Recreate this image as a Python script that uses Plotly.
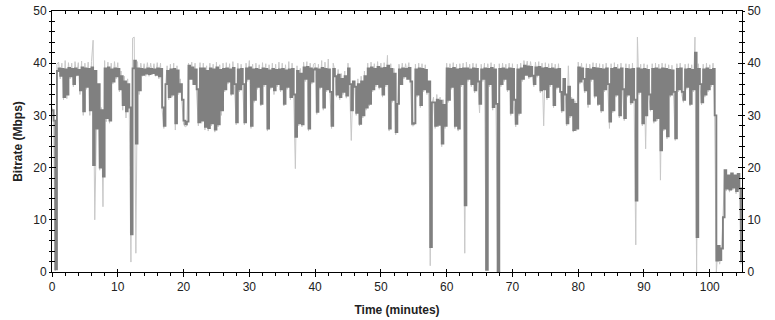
import numpy as np
import plotly.graph_objects as go

# Sampling step of the traces (minutes)
STEP = 0.25

# Dark grey series (Mbps), 4 samples per minute, minute 0 .. 104
dark = [
    31.0, 29.0, 0.5, 38.5,   39.0, 37.6, 38.9, 33.5,   38.8, 34.0, 39.1, 37.5,   38.9, 36.0, 39.0, 37.8,
    38.7, 34.8, 39.2, 30.8,  39.0, 35.5, 38.9, 31.0,   39.2, 20.5, 38.5, 27.5,   36.0, 20.0, 31.0, 18.3,
    39.0, 29.5, 39.2, 29.0,  38.8, 36.5, 39.0, 37.5,
    38.9, 35.0, 37.5, 32.0,  36.5, 30.8, 36.0, 31.5,   7.2, 39.0, 40.5, 24.6,    39.0, 34.8, 38.9, 37.8,
    38.8, 38.0, 39.0, 37.9,  38.9, 38.1, 38.8, 37.8,   39.0, 37.5, 38.9, 31.5,   28.0, 36.0, 38.5, 33.5,
    38.8, 34.0, 38.9, 28.5,  38.6, 34.5, 36.0, 33.0,
    29.0, 28.3, 28.8, 39.5,  37.0, 39.2, 36.0, 38.8,   35.0, 28.7, 39.0, 29.0,   39.0, 27.8, 38.5, 27.6,
    39.0, 28.5, 38.8, 27.3,  39.2, 28.3, 38.7, 31.0,   38.9, 35.0, 39.0, 36.5,   38.8, 34.2, 39.1, 36.0,
    28.7, 38.8, 35.0, 38.9,  36.0, 28.7, 39.0, 37.0,
    39.2, 28.0, 38.8, 33.0,  38.9, 35.5, 38.7, 32.2,   39.0, 36.0, 38.9, 27.5,   38.6, 35.5, 38.9, 34.8,
    38.7, 36.0, 38.8, 35.0,  38.9, 32.2, 38.6, 35.5,   38.8, 33.5, 38.9, 34.0,   25.9, 38.5, 28.5, 38.0,
    28.3, 39.2, 37.0, 39.3,  27.5, 39.0, 36.5, 38.8,
    39.0, 30.7, 38.8, 35.5,  39.1, 31.5, 38.9, 35.0,   38.8, 34.5, 28.0, 38.9,   37.5, 34.0, 37.8, 33.5,
    37.0, 34.5, 37.5, 33.8,  39.0, 36.0, 31.0, 36.5,   35.5, 30.5, 36.0, 28.4,   36.5, 30.0, 37.5, 31.5,
    39.0, 32.2, 39.2, 35.0,  38.9, 36.0, 39.3, 35.5,
    39.0, 34.0, 39.1, 36.0,  39.5, 27.5, 38.9, 33.0,   38.0, 26.8, 32.2, 38.8,   36.0, 39.0, 37.5, 38.9,
    37.0, 39.1, 36.5, 28.4,  28.5, 38.8, 34.0, 39.0,   32.0, 38.9, 35.0, 38.7,   34.5, 36.5, 4.8, 32.5,
    32.5, 28.0, 33.0, 28.2,  32.8, 24.6, 32.0, 28.0,
    39.0, 33.0, 38.9, 35.5,  39.1, 28.0, 38.8, 27.5,   38.9, 36.0, 39.0, 12.8,   39.0, 37.0, 38.8, 36.0,
    39.0, 34.8, 38.9, 36.5,  32.2, 38.8, 37.0, 39.0,   0.4, 38.9, 36.0, 39.1,    31.6, 38.8, 32.2, 0.2,
    38.9, 36.0, 39.0, 37.0,  38.8, 35.0, 39.0, 30.5,
    38.9, 33.0, 28.4, 38.8,  30.5, 39.0, 37.0, 39.5,   37.8, 39.4, 37.5, 39.3,   37.6, 36.0, 39.2, 37.8,
    39.3, 34.8, 39.0, 35.0,  39.1, 33.5, 38.9, 36.0,   39.0, 32.0, 38.8, 35.5,   38.9, 34.5, 31.0, 37.0,
    34.0, 28.5, 35.5, 30.0,  33.0, 27.2, 32.2, 27.5,
    39.2, 36.5, 39.0, 37.0,  34.8, 38.9, 32.2, 38.8,   37.0, 39.1, 33.8, 39.0,   32.2, 38.9, 31.0, 38.8,
    35.0, 39.0, 36.0, 28.8,  38.9, 31.0, 39.1, 34.0,   38.8, 30.0, 39.0, 35.0,   29.5, 38.9, 34.0, 38.8,
    32.5, 38.9, 33.0, 13.7,  39.0, 34.5, 38.8, 28.5,
    38.9, 30.0, 38.7, 34.0,  31.2, 38.9, 29.0, 39.0,   29.5, 38.8, 23.3, 39.0,   27.5, 38.9, 26.0, 38.7,
    34.0, 38.6, 34.5, 25.6,  38.9, 35.0, 39.0, 34.5,   33.0, 38.8, 35.5, 38.9,   32.2, 38.7, 35.0, 42.0,
    6.7, 38.9, 36.0, 32.5,   38.8, 34.0, 39.0, 35.0,
    38.7, 36.0, 38.9, 30.0,  2.2, 5.0, 2.3, 4.5,       10.5, 19.5, 16.0, 18.5,   15.8, 18.9, 16.2, 18.5,
    15.5, 18.8, 16.0, 2.0,
]

# Light grey series (Mbps), 4 samples per minute, minute 0 .. 104
light = [
    31.5, 29.0, 0.2, 39.8,   40.2, 37.0, 40.0, 33.0,   40.5, 33.2, 40.1, 37.0,   40.0, 35.5, 40.3, 37.5,
    40.1, 34.0, 40.4, 30.0,  40.0, 35.0, 40.2, 30.0,   40.3, 44.4, 10.0, 27.0,   30.0, 19.5, 31.5, 12.5,
    40.5, 28.8, 40.2, 28.5,  40.0, 36.0, 40.3, 37.0,
    40.1, 34.5, 38.5, 31.0,  37.5, 29.5, 37.0, 30.5,   1.9, 44.8, 45.0, 3.6,     40.3, 34.0, 40.0, 37.5,
    39.9, 37.5, 40.1, 37.5,  40.0, 37.8, 39.9, 37.5,   40.1, 37.0, 40.0, 31.0,   27.5, 35.5, 39.5, 33.0,
    39.8, 33.5, 40.0, 27.2,  39.5, 34.0, 37.0, 32.5,
    28.3, 27.8, 28.0, 40.0,  38.0, 40.2, 36.0, 40.0,   35.0, 28.0, 40.1, 28.5,   40.0, 27.2, 39.5, 27.0,
    40.0, 28.0, 39.8, 26.8,  40.2, 27.8, 39.7, 30.0,   40.0, 34.5, 40.1, 36.0,   39.9, 33.8, 40.3, 35.5,
    28.2, 40.0, 34.5, 39.8,  35.5, 28.2, 40.0, 36.5,
    40.5, 27.5, 39.8, 32.5,  40.0, 35.0, 39.7, 31.8,   40.1, 35.5, 39.9, 27.0,   39.7, 35.0, 40.0, 34.0,
    39.8, 35.5, 40.2, 34.5,  40.0, 31.8, 39.7, 35.0,   40.3, 33.0, 40.0, 33.5,   19.8, 39.5, 28.0, 39.0,
    27.8, 40.2, 36.5, 40.3,  27.0, 40.0, 36.0, 39.8,
    40.0, 30.2, 39.8, 35.0,  40.5, 31.0, 40.2, 34.5,   40.8, 34.0, 27.5, 40.0,   38.5, 33.5, 38.8, 33.0,
    38.0, 34.0, 38.5, 33.3,  40.0, 35.5, 25.2, 36.0,   36.5, 30.0, 37.0, 28.0,   37.5, 29.5, 38.5, 31.0,
    40.0, 31.8, 40.2, 34.5,  39.9, 35.5, 40.3, 35.0,
    40.0, 33.5, 40.1, 35.5,  41.5, 27.0, 39.9, 32.5,   39.0, 26.3, 31.8, 39.8,   37.0, 40.0, 37.0, 39.9,
    38.0, 40.1, 36.0, 28.0,  28.0, 39.8, 33.5, 40.0,   31.5, 39.9, 34.5, 39.7,   34.0, 36.0, 1.2, 32.0,
    33.5, 27.5, 34.0, 27.8,  33.5, 24.0, 33.0, 27.5,
    40.0, 32.5, 39.9, 35.0,  40.1, 27.5, 39.8, 27.0,   39.9, 35.5, 40.0, 3.6,    40.2, 36.5, 39.8, 35.5,
    40.0, 34.3, 39.9, 36.0,  30.5, 39.8, 36.5, 40.0,   0.3, 39.9, 35.5, 40.1,    31.0, 39.8, 31.8, 0.1,
    39.9, 35.5, 40.0, 36.5,  39.8, 34.5, 40.0, 30.0,
    39.9, 32.5, 27.8, 39.8,  30.0, 40.0, 36.5, 40.5,   38.5, 40.4, 37.0, 40.3,   38.0, 35.5, 40.2, 37.3,
    40.3, 34.3, 40.0, 28.0,  40.1, 33.0, 39.9, 35.5,   40.0, 31.5, 39.8, 35.0,   39.9, 34.0, 30.5, 36.5,
    35.0, 28.0, 39.5, 29.5,  33.5, 26.8, 32.8, 27.0,
    40.2, 36.0, 40.0, 36.5,  34.3, 39.9, 31.5, 39.8,   36.5, 40.1, 33.3, 40.0,   31.8, 39.9, 30.5, 39.8,
    34.5, 40.0, 35.5, 27.5,  39.9, 30.5, 40.1, 33.5,   39.8, 29.5, 40.0, 34.5,   29.0, 39.9, 33.5, 39.8,
    32.0, 40.0, 32.5, 5.2,   45.0, 34.0, 39.8, 28.0,
    39.9, 23.6, 39.7, 33.5,  30.8, 39.9, 28.5, 40.0,   29.0, 39.8, 17.6, 40.0,   27.0, 39.9, 25.5, 39.7,
    33.5, 39.6, 34.0, 25.2,  39.9, 34.5, 40.0, 34.0,   32.5, 39.8, 35.0, 39.9,   31.8, 39.7, 34.5, 45.0,
    0.0, 39.9, 35.5, 32.0,   39.8, 33.5, 40.0, 34.5,
    39.7, 35.5, 40.0, 29.5,  0.0, 4.5, 1.5, 3.5,       10.0, 19.0, 15.5, 18.0,   15.3, 18.5, 15.7, 18.0,
    15.0, 18.3, 15.5, 1.5,
]

x_tick_vals = [0, 10, 20, 30, 40, 50, 60, 70, 80, 90, 100]
y_tick_vals = [0, 10, 20, 30, 40, 50]

t_dark = np.arange(len(dark)) * STEP
t_light = np.arange(len(light)) * STEP

FONT = "Liberation Sans, Arial, sans-serif"
XR = [0, 104.9]
YR = [0, 50]

fig = go.Figure()
fig.add_trace(go.Scatter(x=t_light, y=light, mode="lines",
                         line=dict(color="#c8c8c8", width=1), hoverinfo="skip"))
fig.add_trace(go.Scatter(x=t_dark, y=dark, mode="lines", line_shape="hv",
                         line=dict(color="#808080", width=1.9), hoverinfo="skip"))
# empty traces so that the extra (frame/tick) axes get drawn
for xa, ya in [("x2", "y"), ("x3", "y"), ("x", "y2"), ("x", "y3"), ("x", "y4")]:
    fig.add_trace(go.Scatter(x=[None], y=[None], mode="lines", xaxis=xa, yaxis=ya,
                             showlegend=False, hoverinfo="skip"))

common_x = dict(range=XR, tickvals=x_tick_vals, showgrid=False, zeroline=False,
                showline=True, linecolor="black", linewidth=1, tickcolor="black",
                automargin=False, ticklabeloverflow="allow")
common_y = dict(range=YR, tickvals=y_tick_vals, showgrid=False, zeroline=False,
                showline=True, linecolor="black", linewidth=1, tickcolor="black",
                automargin=False, ticklabeloverflow="allow")

fig.update_layout(
    width=775, height=320,
    margin=dict(l=52, r=33, t=11, b=48, autoexpand=False),
    paper_bgcolor="white", plot_bgcolor="white",
    showlegend=False,
    font=dict(family=FONT, size=12, color="#222222"),
    xaxis=dict(**common_x, side="bottom", ticks="outside", ticklen=4,
               tickfont=dict(size=12, color="#222222"),
               minor=dict(dtick=2, ticks="outside", ticklen=3, tickcolor="black"),
               title=dict(text="<b>Time (minutes)</b>", font=dict(size=12, color="#222222"),
                          standoff=12)),
    xaxis2=dict(**common_x, overlaying="x", side="top", anchor="y", ticks="inside",
                ticklen=4, showticklabels=False,
                minor=dict(dtick=2, ticks="inside", ticklen=3, tickcolor="black")),
    xaxis3=dict(**common_x, overlaying="x", side="bottom", anchor="y", ticks="inside",
                ticklen=3, showticklabels=False),
    yaxis=dict(**common_y, side="left", ticks="outside", ticklen=2,
               tickfont=dict(size=12, color="#222222"),
               minor=dict(dtick=2, ticks="outside", ticklen=2, tickcolor="black"),
               title=dict(text="<b>Bitrate (Mbps)</b>", font=dict(size=12, color="#222222"),
                          standoff=8)),
    yaxis2=dict(**common_y, overlaying="y", side="right", anchor="x", ticks="outside",
                ticklen=2, tickfont=dict(size=12, color="#222222"),
                minor=dict(dtick=2, ticks="outside", ticklen=2, tickcolor="black")),
    yaxis3=dict(**common_y, overlaying="y", side="left", anchor="x", ticks="inside",
                ticklen=4, showticklabels=False,
                minor=dict(dtick=2, ticks="inside", ticklen=3, tickcolor="black")),
    yaxis4=dict(**common_y, overlaying="y", side="right", anchor="x", ticks="inside",
                ticklen=4, showticklabels=False,
                minor=dict(dtick=2, ticks="inside", ticklen=3, tickcolor="black")),
)

# remove the default 8px page margin so the figure fills the window exactly
fig.write_html("out.html", config={"displayModeBar": False},
               post_script="document.body.style.margin='0px';")
